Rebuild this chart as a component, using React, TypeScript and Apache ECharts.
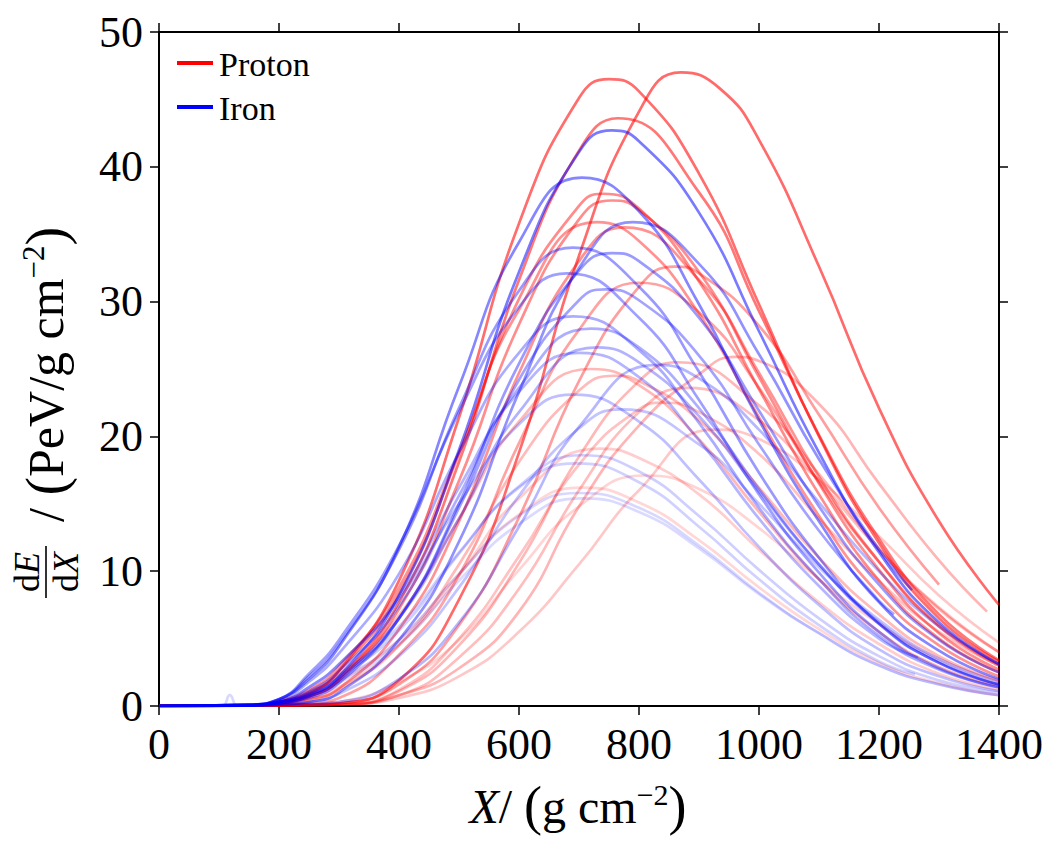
import React, { useEffect, useRef } from "react";
import * as echarts from "echarts";

// Depth X in g/cm^2, energy deposit dE/dX in PeV/(g/cm^2)
const protonProfiles: number[][][] = [
  [[0,0],[150,0.02],[200,0.3],[250,0.9],[300,2.6],[400,9.3],[500,21.4],[600,35.8],[700,45.1],[750,46.5],[800,45.6],[900,39.5],[1000,29.8],[1100,20.0],[1200,12.1],[1300,6.5],[1400,3.3]],
  [[0,0],[150,0.02],[200,0.05],[250,0.1],[300,0.2],[400,1.9],[500,7.9],[600,18.8],[700,33.4],[800,44.1],[870,47.0],[935,45.8],[1000,42.0],[1100,32.6],[1200,22.1],[1300,13.7],[1400,7.5]],
  [[0,0],[150,0.02],[200,0.2],[250,0.7],[300,2.0],[400,7.7],[500,18.1],[600,31.6],[700,41.2],[765,43.6],[900,38.1],[1000,29.3],[1100,20.1],[1200,12.4],[1300,6.8],[1400,3.4]],
  [[0,0],[150,0.02],[200,0.3],[250,1.0],[300,2.6],[400,8.4],[500,18.7],[600,30.2],[700,37.1],[740,38.0],[800,36.9],[900,31.5],[1000,23.5],[1100,15.7],[1200,9.3],[1300,5.0],[1400,2.5]],
  [[0,0],[150,0.02],[200,0.2],[250,0.7],[300,1.9],[400,7.2],[500,16.7],[600,28.3],[700,36.1],[755,37.5],[800,36.8],[900,32.2],[1000,24.4],[1100,16.5],[1200,10.1],[1300,5.4],[1400,2.7]],
  [[0,0],[150,0.02],[200,0.4],[250,1.2],[300,2.9],[400,8.8],[500,18.8],[600,29.4],[730,35.9],[800,34.5],[900,29.1],[1000,21.4],[1100,14.1],[1200,8.3],[1300,4.5],[1400,2.2]],
  [[0,0],[150,0.02],[200,0.2],[250,0.5],[300,1.3],[400,5.7],[500,13.7],[600,24.7],[700,33.0],[775,35.5],[900,31.6],[1000,24.7],[1100,17.0],[1200,10.7],[1300,5.9],[1400,3.0]],
  [[0,0],[150,0.02],[200,0.05],[250,0.1],[300,0.2],[400,1.6],[500,6.0],[600,14.0],[700,24.1],[800,31.1],[860,32.6],[900,32.1],[1000,28.2],[1100,21.6],[1200,14.7],[1300,9.0]],
  [[0,0],[150,0.02],[200,0.1],[250,0.2],[300,0.6],[400,3.8],[500,9.7],[600,19.5],[700,27.9],[800,31.4],[900,29.2],[1000,23.6],[1100,16.6],[1200,10.7],[1300,6.0],[1400,3.1]],
  [[0,0],[150,0.02],[200,0.05],[250,0.08],[300,0.1],[400,1.1],[500,4.5],[600,10.6],[700,18.5],[800,24.1],[865,25.5],[1000,22.3],[1100,17.2],[1200,11.7],[1300,7.2],[1400,4.0]],
  [[0,0],[150,0.02],[200,0.03],[250,0.05],[300,0.1],[400,0.8],[500,2.8],[600,7.0],[700,14.8],[800,20.8],[900,24.6],[960,25.9],[1000,25.6],[1100,22.4],[1200,16.5],[1300,10.8],[1380,7.0]],
  [[0,0],[150,0.02],[200,0.3],[250,1.0],[300,2.3],[400,6.7],[500,13.9],[600,21.1],[720,25.0],[800,23.8],[900,19.8],[1000,14.4],[1100,9.4],[1200,5.5],[1300,2.9],[1400,1.5]],
  [[0,0],[150,0.02],[200,0.1],[250,0.4],[300,1.2],[400,4.5],[500,10.5],[600,18.1],[700,23.4],[760,24.5],[800,24.1],[900,21.2],[1000,16.2],[1100,11.0],[1200,6.8],[1300,3.7],[1400,1.9]],
  [[0,0],[150,0.02],[200,0.05],[250,0.07],[300,0.1],[400,0.8],[500,3.6],[600,8.7],[700,16.0],[800,21.8],[880,23.6],[1000,21.2],[1100,16.7],[1200,11.6],[1300,7.3],[1400,4.0]],
  [[0,0],[150,0.02],[200,0.03],[250,0.05],[300,0.1],[400,0.6],[500,2.2],[600,5.5],[700,10.5],[800,16.0],[925,20.5],[1000,19.8],[1100,16.8],[1200,12.6],[1300,8.2],[1400,4.7]],
  [[0,0],[150,0.02],[200,0.2],[250,0.6],[300,1.4],[400,4.5],[500,9.7],[600,15.4],[735,19.1],[800,18.4],[900,15.7],[1000,11.6],[1100,7.7],[1200,4.6],[1300,2.4],[1400,1.2]],
  [[0,0],[150,0.02],[200,0.05],[250,0.1],[300,0.3],[400,1.8],[500,4.9],[600,10.1],[700,14.8],[810,17.1],[900,16.1],[1000,13.2],[1100,9.4],[1200,6.1],[1300,3.5],[1400,1.8]],
  [[0,0],[150,0.02],[200,0.3],[250,0.8],[300,1.8],[400,4.9],[500,9.8],[600,14.2],[705,16.2],[800,15.1],[900,12.3],[1000,8.8],[1100,5.7],[1200,3.2],[1300,1.7],[1400,0.8]],
  [[0,0],[150,0.02],[200,0.03],[250,0.05],[300,0.1],[400,1.2],[500,5.0],[600,11.1],[700,17.9],[800,22.0],[840,22.5],[900,21.8],[1000,18.7],[1100,13.9],[1200,9.3],[1300,5.5],[1400,3.0]],
];

const ironProfiles: number[][][] = [
  [[0,0],[150,0.05],[200,0.3],[250,0.8],[300,2.2],[400,8.2],[500,19.0],[600,32.2],[700,41.1],[755,42.7],[800,41.9],[900,36.6],[1000,27.8],[1100,18.8],[1200,11.4],[1300,6.2],[1400,3.1]],
  [[0,0],[150,0.1],[200,0.5],[250,2.0],[300,4.4],[400,11.8],[500,23.7],[600,34.4],[705,39.2],[800,36.7],[900,29.8],[1000,21.2],[1100,13.7],[1200,7.7],[1300,4.1],[1400,2.0]],
  [[0,0],[150,0.03],[200,0.1],[250,0.3],[300,1.0],[400,4.9],[500,12.2],[600,23.3],[700,32.5],[790,35.9],[900,32.8],[1000,26.1],[1100,18.3],[1200,11.6],[1255,8.6]],
  [[0,0],[150,0.1],[200,0.5],[250,2.2],[300,4.6],[400,11.6],[500,22.1],[600,30.8],[690,34.0],[800,31.1],[900,24.8],[1000,17.3],[1100,11.0],[1200,6.1],[1300,3.2],[1400,1.6]],
  [[0,0],[150,0.05],[200,0.2],[250,0.6],[300,1.7],[400,6.5],[500,15.0],[600,25.4],[700,32.3],[755,33.6],[800,33.0],[900,28.8],[1000,21.9],[1100,14.8],[1200,9.0],[1300,4.9],[1400,2.5]],
  [[0,0],[150,0.1],[200,0.5],[250,2.4],[300,4.9],[400,11.9],[500,21.8],[600,29.6],[680,32.1],[800,28.8],[900,22.7],[1000,15.7],[1100,9.9],[1200,5.5],[1300,2.8],[1400,1.4]],
  [[0,0],[150,0.05],[200,0.2],[250,0.7],[300,1.9],[400,6.5],[500,14.7],[600,24.2],[700,30.1],[745,30.9],[800,30.1],[900,26.0],[1000,19.4],[1100,13.0],[1200,7.8],[1225,6.8]],
  [[0,0],[150,0.1],[200,0.4],[250,1.8],[300,3.9],[400,9.8],[500,18.8],[600,26.2],[690,28.9],[800,26.4],[900,21.0],[1000,14.7],[1100,9.4],[1200,5.2],[1300,2.7],[1400,1.4]],
  [[0,0],[150,0.05],[200,0.3],[250,1.1],[300,2.6],[400,7.4],[500,15.6],[600,23.6],[720,28.0],[800,26.6],[900,22.1],[1000,16.1],[1100,10.5],[1200,6.1],[1300,3.2],[1400,1.6]],
  [[0,0],[150,0.05],[200,0.3],[250,0.9],[300,2.1],[400,6.5],[500,13.9],[600,21.8],[730,26.6],[800,25.5],[900,21.5],[1000,15.9],[1100,10.5],[1200,6.2],[1300,3.3],[1400,1.6]],
  [[0,0],[150,0.08],[200,0.3],[250,1.4],[300,3.1],[400,8.1],[500,16.2],[600,23.3],[700,26.2],[800,24.4],[900,19.7],[1000,13.9],[1100,8.9],[1200,5.0],[1265,3.6]],
  [[0,0],[150,0.02],[200,0.1],[250,0.15],[300,0.3],[400,2.0],[500,6.2],[600,13.3],[700,20.7],[830,25.3],[900,24.3],[1000,20.5],[1100,15.1],[1200,10.0],[1300,5.9],[1400,3.1]],
  [[0,0],[150,0.08],[200,0.3],[250,1.4],[300,3.1],[400,7.9],[500,15.0],[600,20.9],[690,23.1],[800,21.1],[900,16.8],[1000,11.8],[1100,7.5],[1200,4.2],[1300,2.2],[1400,1.1]],
  [[0,0],[150,0.05],[200,0.2],[250,0.9],[300,2.1],[400,5.6],[500,11.3],[600,16.3],[705,18.6],[800,17.4],[900,14.1],[1000,10.1],[1100,6.5],[1200,3.7],[1300,1.9],[1400,1.0]],
  [[0,0],[150,0.05],[200,0.2],[250,1.0],[300,2.3],[400,5.9],[500,11.4],[600,16.2],[695,18.0],[800,16.6],[900,13.3],[1000,9.4],[1100,6.0],[1200,3.3],[1260,2.35]],
  [[0,0],[105,0],[118,0.8],[131,0],[150,0.05],[200,0.2],[250,0.8],[300,1.9],[400,4.9],[500,9.8],[600,14.1],[700,15.8],[800,14.7],[900,11.9],[1000,8.4],[1100,5.4],[1200,3.0],[1300,1.6],[1400,0.8]],
  [[0,0],[150,0.05],[200,0.2],[250,0.7],[300,1.7],[400,4.6],[500,9.3],[600,13.5],[705,15.4],[800,14.4],[900,11.7],[1000,8.3],[1100,5.4],[1200,3.0],[1300,1.6],[1400,0.8]],
  [[0,0],[150,0.02],[200,0.1],[250,0.3],[300,0.9],[400,3.7],[500,8.8],[600,15.6],[700,20.6],[770,22.0],[900,19.4],[1000,15.0],[1100,10.3],[1200,6.4],[1300,3.5],[1400,1.8]],
];

const legendNames = ["Proton", "Iron"];

const SERIF = "'Liberation Serif', 'DejaVu Serif', serif";

function alphaFor(points: number[][]): number {
  const peak = Math.max(...points.map((p) => p[1]));
  const a = 0.14 + (0.44 * (peak - 15)) / 32;
  return Math.max(0.13, Math.min(0.58, a));
}

function makeSeries(list: number[][][], rgb: string, name: string) {
  return list.map((pts, i) => {
    const c = `rgba(${rgb},${alphaFor(pts).toFixed(3)})`;
    return {
      type: "line",
      name: `${name} ${i + 1}`,
      data: pts,
      showSymbol: false,
      symbol: "none",
      smooth: 0.5,
      silent: true,
      lineStyle: { color: c, width: 2.7 },
      itemStyle: { color: c },
    };
  });
}

export default function App() {
  const ref = useRef<HTMLDivElement>(null);
  useEffect(() => {
    if (!ref.current) return;
    const chart = echarts.init(ref.current, null, { renderer: "svg" });
    const axisLine = { show: true, onZero: false, lineStyle: { color: "#000", width: 2 } };
    const axisTick = { show: true, inside: false, length: 9, lineStyle: { color: "#000", width: 1.5 } };
    const label = {
      fontFamily: SERIF, fontSize: 44, color: "#000", margin: 16,
      showMinLabel: true, showMaxLabel: true,
      formatter: (v: number) => String(v),
    };
    const rich = (size: number) => ({
      n: { fontFamily: SERIF, fontSize: size, fill: "#000" },
      i: { fontFamily: SERIF, fontSize: size, fontStyle: "italic", fill: "#000" },
      p: { fontFamily: SERIF, fontSize: Math.round(size * 1.12), fill: "#000" },
      s: { fontFamily: SERIF, fontSize: Math.round(size * 0.62), fill: "#000", verticalAlign: "top" },
    });
    const option: any = {
      animation: false,
      backgroundColor: "#fff",
      grid: { left: 159, right: 49, top: 32, bottom: 135, containLabel: false },
      xAxis: [
        {
          type: "value", min: 0, max: 1400, interval: 200, position: "bottom",
          axisLine, axisTick, axisLabel: label, splitLine: { show: false },
        },
        {
          type: "value", min: 0, max: 1400, interval: 200, position: "top",
          axisLine, axisTick, axisLabel: { show: false }, splitLine: { show: false },
        },
      ],
      yAxis: [
        {
          type: "value", min: 0, max: 50, interval: 10, position: "left",
          axisLine, axisTick, axisLabel: label, splitLine: { show: false },
        },
        {
          type: "value", min: 0, max: 50, interval: 10, position: "right",
          axisLine, axisTick, axisLabel: { show: false }, splitLine: { show: false },
        },
      ],
      series: [
        ...makeSeries(protonProfiles, "255,0,0", legendNames[0]),
        ...makeSeries(ironProfiles, "0,0,255", legendNames[1]),
      ],
      graphic: [
        { type: "line", shape: { x1: 177, y1: 63, x2: 213, y2: 63 }, style: { stroke: "#ff0000", lineWidth: 4 } },
        { type: "text", x: 219, y: 64, style: { text: legendNames[0], fontFamily: SERIF, fontSize: 34, fill: "#000", verticalAlign: "middle", align: "left" } },
        { type: "line", shape: { x1: 177, y1: 107, x2: 213, y2: 107 }, style: { stroke: "#0000ff", lineWidth: 4 } },
        { type: "text", x: 219, y: 108, style: { text: legendNames[1], fontFamily: SERIF, fontSize: 34, fill: "#000", verticalAlign: "middle", align: "left" } },
        {
          type: "text", x: 578, y: 806,
          style: {
            text: "{i|X}{n|/ }{p|(}{n|g cm}{s|−2}{p|)}",
            align: "center", verticalAlign: "middle", rich: rich(48),
          },
        },
        {
          type: "group", x: 46, y: 620, rotation: Math.PI / 2,
          children: [
            { type: "text", x: 48, y: -19, style: { text: "{n|d}{i|E}", align: "center", verticalAlign: "middle", rich: rich(36) } },
            { type: "line", shape: { x1: 22, y1: 0, x2: 74, y2: 0 }, style: { stroke: "#000", lineWidth: 1.6 } },
            { type: "text", x: 48, y: 20, style: { text: "{n|d}{i|X}", align: "center", verticalAlign: "middle", rich: rich(36) } },
            { type: "text", x: 98, y: 0, style: { text: "{n|/ }{p|(}{n|PeV/g cm}{s|−2}{p|)}", align: "left", verticalAlign: "middle", rich: rich(50) } },
          ],
        },
      ],
    };
    chart.setOption(option);
    return () => chart.dispose();
  }, []);
  return <div ref={ref} style={{ position: "fixed", left: 0, top: 0, width: 1048, height: 841, background: "#fff" }} />;
}
